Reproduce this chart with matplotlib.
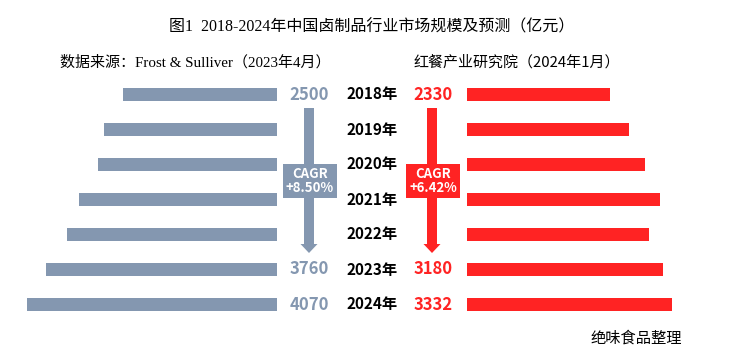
import matplotlib.pyplot as plt
import matplotlib.patches as patches

plt.rcParams['font.family'] = ['Noto Sans CJK SC', 'DejaVu Sans']

# 数据
years = ['2018年', '2019年', '2020年', '2021年', '2022年', '2023年', '2024年']
frost = [2500, 2810, 2910, 3220, 3410, 3760, 4070]
hongcan = [2330, 2625, 2885, 3130, 2965, 3180, 3332]
frost_labels = {0: '2500', 5: '3760', 6: '4070'}
hongcan_labels = {0: '2330', 5: '3180', 6: '3332'}
cagr_frost = 'CAGR\n+8.50%'
cagr_hongcan = 'CAGR\n+6.42%'

GRAY = '#8497B0'
RED = '#FF2323'

W, H = 744, 364
fig = plt.figure(figsize=(W / 100, H / 100), dpi=100)

# 像素坐标的覆盖层，用于文字和箭头
ax_px = fig.add_axes([0, 0, 1, 1])
ax_px.set_xlim(0, W)
ax_px.set_ylim(H, 0)
ax_px.set_axis_off()

top, bottom = 77, 322
row_h = (bottom - top) / len(years)
scale = 16.25  # 亿元 / px


def row_y(i):
    return top + row_h * (i + 0.5)


# 左侧柱状图（Frost & Sullivan）
ax_l = fig.add_axes([0, (H - bottom) / H, 277 / W, (bottom - top) / H])
ax_l.barh(range(len(years)), frost, height=0.37, color=GRAY)
ax_l.set_xlim(277 * scale, 0)
ax_l.set_ylim(len(years) - 0.5, -0.5)
ax_l.set_axis_off()

# 右侧柱状图（红餐）
ax_r = fig.add_axes([467 / W, (H - bottom) / H, 277 / W, (bottom - top) / H])
ax_r.barh(range(len(years)), hongcan, height=0.37, color=RED)
ax_r.set_xlim(0, 277 * scale)
ax_r.set_ylim(len(years) - 0.5, -0.5)
ax_r.set_axis_off()

# 年份标签和数值
for i, y in enumerate(years):
    ax_px.text(372, row_y(i), y, ha='center', va='center', fontsize=11,
               fontweight='bold', color='black')
for i, s in frost_labels.items():
    ax_px.text(309, row_y(i), s, ha='center', va='center', fontsize=12,
               fontweight='bold', color=GRAY)
for i, s in hongcan_labels.items():
    ax_px.text(433, row_y(i), s, ha='center', va='center', fontsize=12,
               fontweight='bold', color=RED)


def down_arrow(ax, x, y0, y1, color, shaft=10, head_w=17, head_l=9):
    pts = [(x - shaft / 2, y0), (x + shaft / 2, y0), (x + shaft / 2, y1 - head_l),
           (x + head_w / 2, y1 - head_l), (x, y1), (x - head_w / 2, y1 - head_l),
           (x - shaft / 2, y1 - head_l)]
    ax.add_patch(patches.Polygon(pts, closed=True, facecolor=color, edgecolor='none'))


down_arrow(ax_px, 309, 108, 253, GRAY)
down_arrow(ax_px, 432, 108, 253, RED)

for cx, color, txt in [(310, GRAY, cagr_frost), (433, RED, cagr_hongcan)]:
    ax_px.add_patch(patches.Rectangle((cx - 27, 164), 54, 34, facecolor=color,
                                      edgecolor='none', zorder=3))
    ax_px.text(cx, 181, txt, ha='center', va='center', fontsize=9.5,
               fontweight='bold', color='white', linespacing=0.95, zorder=4)

# 标题与来源
ax_px.text(372, 27, '图1  2018-2024年中国卤制品行业市场规模及预测（亿元）',
           ha='center', va='center', fontsize=11.5,
           family=['Liberation Serif', 'Noto Sans CJK SC'])
ax_px.text(60, 62, '数据来源：Frost & Sulliver（2023年4月）', ha='left', va='center',
           fontsize=10.8, family=['Liberation Serif', 'Noto Sans CJK SC'])
ax_px.text(413, 62, '红餐产业研究院（2024年1月）', ha='left', va='center',
           fontsize=10.8)
ax_px.text(590, 338, '绝味食品整理', ha='left', va='center', fontsize=11)

fig.savefig('out.png', dpi=100)
